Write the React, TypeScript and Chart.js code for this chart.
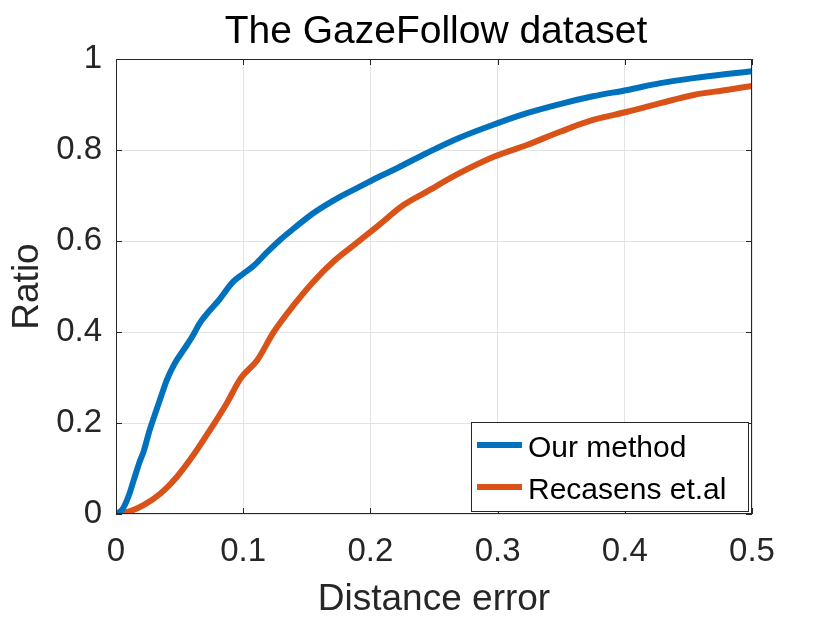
import React, { useEffect, useRef } from "react";
import { Chart, registerables } from "chart.js";

Chart.register(...registerables);

const TITLE = "The GazeFollow dataset";
const X_LABEL = "Distance error";
const Y_LABEL = "Ratio";
const SERIES_NAMES = ["Our method", "Recasens et.al"];
const SERIES_COLORS = ["#0072BD", "#D95319"];

const X_TICKS = [0, 0.1, 0.2, 0.3, 0.4, 0.5];
const X_TICK_LABELS = ["0", "0.1", "0.2", "0.3", "0.4", "0.5"];
const Y_TICKS = [0, 0.2, 0.4, 0.6, 0.8, 1];
const Y_TICK_LABELS = ["0", "0.2", "0.4", "0.6", "0.8", "1"];

const OUR_X = [0, 0.005, 0.01, 0.014, 0.018, 0.022, 0.026, 0.03, 0.035, 0.04, 0.046, 0.053, 0.06, 0.066, 0.073, 0.08, 0.092, 0.1, 0.108, 0.119, 0.13, 0.14, 0.155, 0.176, 0.192, 0.208, 0.218, 0.244, 0.27, 0.299, 0.323, 0.349, 0.375, 0.402, 0.428, 0.454, 0.48, 0.5];
const OUR_Y = [0, 0.01, 0.04, 0.075, 0.11, 0.14, 0.18, 0.214, 0.255, 0.295, 0.33, 0.36, 0.39, 0.42, 0.445, 0.467, 0.51, 0.528, 0.545, 0.576, 0.605, 0.628, 0.661, 0.697, 0.72, 0.743, 0.756, 0.793, 0.827, 0.858, 0.881, 0.901, 0.918, 0.932, 0.947, 0.958, 0.967, 0.973];

const REC_X = [0, 0.01, 0.022, 0.035, 0.048, 0.061, 0.074, 0.087, 0.098, 0.111, 0.124, 0.14, 0.155, 0.171, 0.187, 0.205, 0.226, 0.244, 0.27, 0.297, 0.323, 0.349, 0.375, 0.402, 0.428, 0.454, 0.48, 0.5];
const REC_Y = [0, 0.005, 0.02, 0.045, 0.082, 0.13, 0.185, 0.243, 0.298, 0.338, 0.4, 0.46, 0.51, 0.555, 0.591, 0.631, 0.679, 0.708, 0.749, 0.785, 0.811, 0.84, 0.866, 0.884, 0.903, 0.921, 0.932, 0.941];

const FONT = "'Liberation Sans', Arial, Helvetica, sans-serif";
const AXIS_COLOR = "#262626";

const toPoints = (xs: number[], ys: number[]) => xs.map((x, i) => ({ x, y: ys[i] }));

const decorPlugin = {
  id: "decor",
  afterDraw(chart: any) {
    const { ctx, chartArea: a, scales } = chart;
    const xs = scales.x;
    const ys = scales.y;
    ctx.save();
    // box
    ctx.strokeStyle = AXIS_COLOR;
    ctx.lineWidth = 1;
    ctx.strokeRect(a.left + 0.5, a.top + 0.5, a.right - a.left - 1, a.bottom - a.top - 1);
    // inward ticks
    const tl = 6;
    ctx.beginPath();
    X_TICKS.forEach((v) => {
      const px = Math.round(xs.getPixelForValue(v)) + 0.5;
      ctx.moveTo(px, a.bottom);
      ctx.lineTo(px, a.bottom - tl);
      ctx.moveTo(px, a.top);
      ctx.lineTo(px, a.top + tl);
    });
    Y_TICKS.forEach((v) => {
      const py = Math.round(ys.getPixelForValue(v)) + 0.5;
      ctx.moveTo(a.left, py);
      ctx.lineTo(a.left + tl, py);
      ctx.moveTo(a.right, py);
      ctx.lineTo(a.right - tl, py);
    });
    ctx.stroke();

    // title
    ctx.fillStyle = "#000";
    ctx.font = `39px ${FONT}`;
    ctx.textAlign = "center";
    ctx.textBaseline = "alphabetic";
    ctx.fillText(TITLE, 436, 43);

    // legend
    const lx = 471, ly = 422, lw = 277, lh = 89;
    ctx.fillStyle = "#fff";
    ctx.fillRect(lx, ly, lw, lh);
    ctx.strokeStyle = AXIS_COLOR;
    ctx.lineWidth = 1;
    ctx.strokeRect(lx + 0.5, ly + 0.5, lw, lh);
    ctx.font = `30px ${FONT}`;
    ctx.textAlign = "left";
    ctx.textBaseline = "alphabetic";
    const rows = [445, 487];
    chart.data.datasets.forEach((ds: any, i: number) => {
      ctx.strokeStyle = ds.borderColor;
      ctx.lineWidth = 6;
      ctx.beginPath();
      ctx.moveTo(477, rows[i]);
      ctx.lineTo(522, rows[i]);
      ctx.stroke();
      ctx.fillStyle = "#000";
      ctx.fillText(ds.label, 528, rows[i] + 12);
    });
    ctx.restore();
  },
};

export default function App() {
  const ref = useRef<HTMLCanvasElement>(null);
  useEffect(() => {
    if (!ref.current) return;
    const chart = new Chart(ref.current, {
      type: "line",
      data: {
        datasets: [
          {
            label: SERIES_NAMES[0],
            data: toPoints(OUR_X, OUR_Y),
            borderColor: SERIES_COLORS[0],
            backgroundColor: SERIES_COLORS[0],
            borderWidth: 6,
            pointRadius: 0,
            cubicInterpolationMode: "monotone",
            fill: false,
          },
          {
            label: SERIES_NAMES[1],
            data: toPoints(REC_X, REC_Y),
            borderColor: SERIES_COLORS[1],
            backgroundColor: SERIES_COLORS[1],
            borderWidth: 6,
            pointRadius: 0,
            cubicInterpolationMode: "monotone",
            fill: false,
          },
        ],
      },
      options: {
        animation: false,
        responsive: false,
        maintainAspectRatio: false,
        layout: { padding: { left: 0, right: 78, top: 59, bottom: 0 } },
        plugins: {
          legend: { display: false },
          title: { display: false },
          tooltip: { enabled: false },
        },
        scales: {
          x: {
            type: "linear",
            min: 0,
            max: 0.5,
            afterBuildTicks: (s: any) => {
              s.ticks = X_TICKS.map((v) => ({ value: v }));
            },
            afterFit: (s: any) => {
              s.height = 109;
            },
            ticks: {
              callback: (v: any) => X_TICK_LABELS[X_TICKS.indexOf(Number(v))] ?? "",
              color: AXIS_COLOR,
              font: { family: FONT, size: 33 },
              padding: 18,
              maxRotation: 0,
            },
            grid: { color: "#e3e3e3", drawTicks: false, lineWidth: 1 },
            border: { display: false },
            title: {
              display: true,
              text: X_LABEL,
              color: AXIS_COLOR,
              font: { family: FONT, size: 37 },
              padding: { top: 0, bottom: 1 },
            },
          },
          y: {
            type: "linear",
            min: 0,
            max: 1,
            afterBuildTicks: (s: any) => {
              s.ticks = Y_TICKS.map((v) => ({ value: v }));
            },
            afterFit: (s: any) => {
              s.width = 116;
            },
            ticks: {
              callback: (v: any) => Y_TICK_LABELS[Y_TICKS.indexOf(Number(v))] ?? "",
              color: AXIS_COLOR,
              font: { family: FONT, size: 33 },
              padding: 14,
            },
            grid: { color: "#e3e3e3", drawTicks: false, lineWidth: 1 },
            border: { display: false },
            title: {
              display: true,
              text: Y_LABEL,
              color: AXIS_COLOR,
              font: { family: FONT, size: 37 },
              padding: { top: 6, bottom: 0 },
            },
          },
        },
      },
      plugins: [decorPlugin],
    } as any);
    return () => chart.destroy();
  }, []);
  return (
    <div style={{ position: "absolute", left: 0, top: 0, width: 830, height: 623, background: "#fff" }}>
      <canvas ref={ref} width={830} height={623} style={{ width: 830, height: 623 }} />
    </div>
  );
}
